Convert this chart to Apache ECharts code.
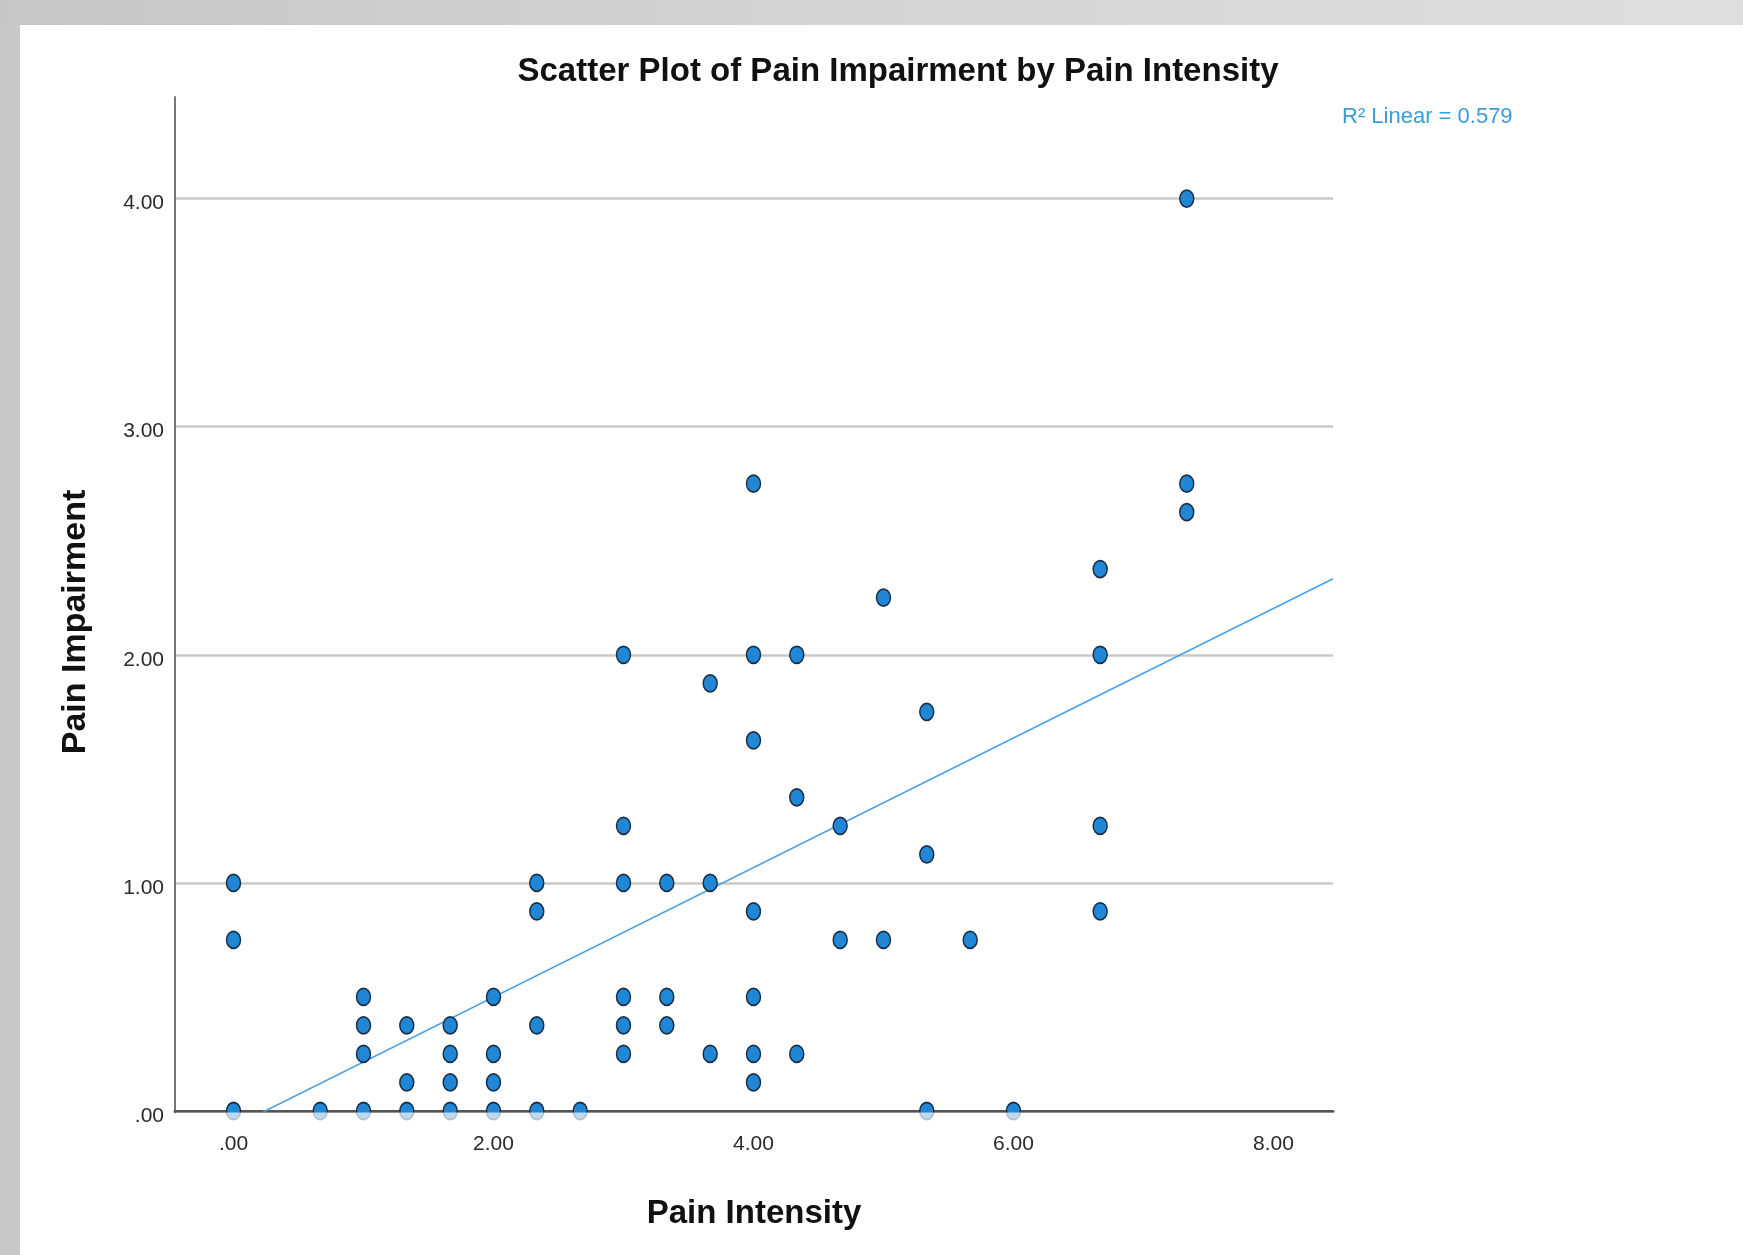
<!DOCTYPE html>
<html>
<head>
<meta charset="utf-8">
<script src="https://cdn.jsdelivr.net/npm/echarts@6/dist/echarts.min.js"></script>
<style>
  html, body { margin: 0; padding: 0; background: #ffffff; }
  #topband { position: absolute; left: 0; top: 0; width: 1743px; height: 25px;
    background: linear-gradient(to right, #c6c6c6, #d4d4d4 50%, #dedede); }
  #leftband { position: absolute; left: 0; top: 25px; width: 20px; height: 1230px; background: #c8c8c8; }
  #chart { position: absolute; left: 0; top: 0; width: 1743px; height: 1255px; }
</style>
</head>
<body>
<div id="topband"></div>
<div id="leftband"></div>
<div id="chart"></div>
<script>
// ---- data ----
const chartTitle = 'Scatter Plot of Pain Impairment by Pain Intensity';
const xAxisName = 'Pain Intensity';
const yAxisName = 'Pain Impairment';
const fitLabel = 'R\u00B2 Linear = 0.579';

const painIntensity = [
  0, 0, 0,
  0.667,
  1, 1, 1, 1,
  1.333, 1.333, 1.333,
  1.667, 1.667, 1.667, 1.667,
  2, 2, 2, 2,
  2.333, 2.333, 2.333, 2.333,
  2.667,
  3, 3, 3, 3, 3, 3,
  3.333, 3.333, 3.333,
  3.667, 3.667, 3.667,
  4, 4, 4, 4, 4, 4, 4,
  4.333, 4.333, 4.333,
  4.667, 4.667,
  5, 5,
  5.333, 5.333, 5.333,
  5.667,
  6,
  6.667, 6.667, 6.667, 6.667,
  7.333, 7.333, 7.333
];
const painImpairment = [
  1, 0.75, 0,
  0,
  0.5, 0.375, 0.25, 0,
  0.375, 0.125, 0,
  0.375, 0.25, 0.125, 0,
  0.5, 0.25, 0.125, 0,
  1, 0.875, 0.375, 0,
  0,
  2, 1.25, 1, 0.5, 0.375, 0.25,
  1, 0.5, 0.375,
  1.875, 1, 0.25,
  2.75, 2, 1.625, 0.875, 0.5, 0.25, 0.125,
  2, 1.375, 0.25,
  1.25, 0.75,
  2.25, 0.75,
  1.75, 1.125, 0,
  0.75,
  0,
  2.375, 2, 1.25, 0.875,
  4, 2.75, 2.625
];

// linear fit as drawn in the reference
const fitIntercept = -0.069;
const fitSlope = 0.284;

const xMin = -0.45, xMax = 8.458;
const yMin = 0, yMax = 4.445;

const points = painIntensity.map((x, i) => [x, painImpairment[i]]);
const fitData = [[xMin, fitIntercept + fitSlope * xMin], [xMax, fitIntercept + fitSlope * xMax]];

const FONT = "'Liberation Sans', Arial, sans-serif";
const fmt = v => { const s = Number(v).toFixed(2); return s.startsWith('0.') ? s.slice(1) : s; };

const chart = echarts.init(document.getElementById('chart'), null, { renderer: 'canvas' });
chart.setOption({
  backgroundColor: 'transparent',
  animation: false,
  title: [
    { text: chartTitle, left: 898, top: 55, textAlign: 'center', padding: 0,
      textStyle: { fontFamily: FONT, fontSize: 33, fontWeight: 'bold', color: '#111' } },
    { text: fitLabel, left: 1342, top: 106, padding: 0,
      textStyle: { fontFamily: FONT, fontSize: 22, fontWeight: 'normal', color: '#3d9bd9' } }
  ],
  grid: { left: 175, right: 410, top: 97, bottom: 144, containLabel: false, outerBoundsMode: 'none' },
  xAxis: {
    type: 'value', min: xMin, max: xMax, splitNumber: 5,
    name: xAxisName, nameLocation: 'middle', nameGap: 86,
    nameTextStyle: { fontFamily: FONT, fontSize: 33, fontWeight: 'bold', color: '#111' },
    axisLine: { show: true, onZero: false, lineStyle: { color: '#555', width: 3 } },
    axisTick: { show: false },
    splitLine: { show: false },
    axisLabel: { show: true, margin: 23, showMinLabel: false, showMaxLabel: false,
      fontFamily: FONT, fontSize: 21, color: '#2a2a2a', formatter: fmt }
  },
  yAxis: {
    type: 'value', min: yMin, max: yMax, interval: 1,
    name: yAxisName, nameLocation: 'middle', nameGap: 82, nameRotate: 90,
    nameTextStyle: { fontFamily: FONT, fontSize: 34, fontWeight: 'bold', color: '#111', padding: [0, 36, 0, 0] },
    axisLine: { show: true, onZero: false, lineStyle: { color: '#777', width: 2 } },
    axisTick: { show: false },
    splitLine: { show: true, showMinLine: false, showMaxLine: false, lineStyle: { color: '#c9c9c9', width: 2.5 } },
    axisLabel: { show: true, margin: 11, showMaxLabel: false, verticalAlign: 'top', lineHeight: 10,
      fontFamily: FONT, fontSize: 21, color: '#2a2a2a', formatter: fmt }
  },
  series: [
    {
      type: 'line', data: fitData, showSymbol: false, symbol: 'none', clip: true,
      lineStyle: { color: '#4aa3df', width: 1.6 }, z: 3, silent: true
    },
    {
      type: 'scatter', data: points, symbol: 'circle', symbolSize: [14, 17],
      itemStyle: { color: '#1f87d6', borderColor: '#1b2e44', borderWidth: 1.6, opacity: 1 },
      z: 4
    }
  ]
});

// soften the parts of markers that fall below the plot area (as in the reference)
const p0 = chart.convertToPixel({ gridIndex: 0 }, [xMin, yMin]);
const p1 = chart.convertToPixel({ gridIndex: 0 }, [xMax, yMin]);
chart.setOption({
  graphic: [{
    type: 'rect', z: 10, silent: true,
    shape: { x: p0[0] + 1, y: p0[1] + 1.5, width: p1[0] - p0[0], height: 12 },
    style: { fill: 'rgba(255,255,255,0.7)' }
  }]
});
</script>
</body>
</html>
